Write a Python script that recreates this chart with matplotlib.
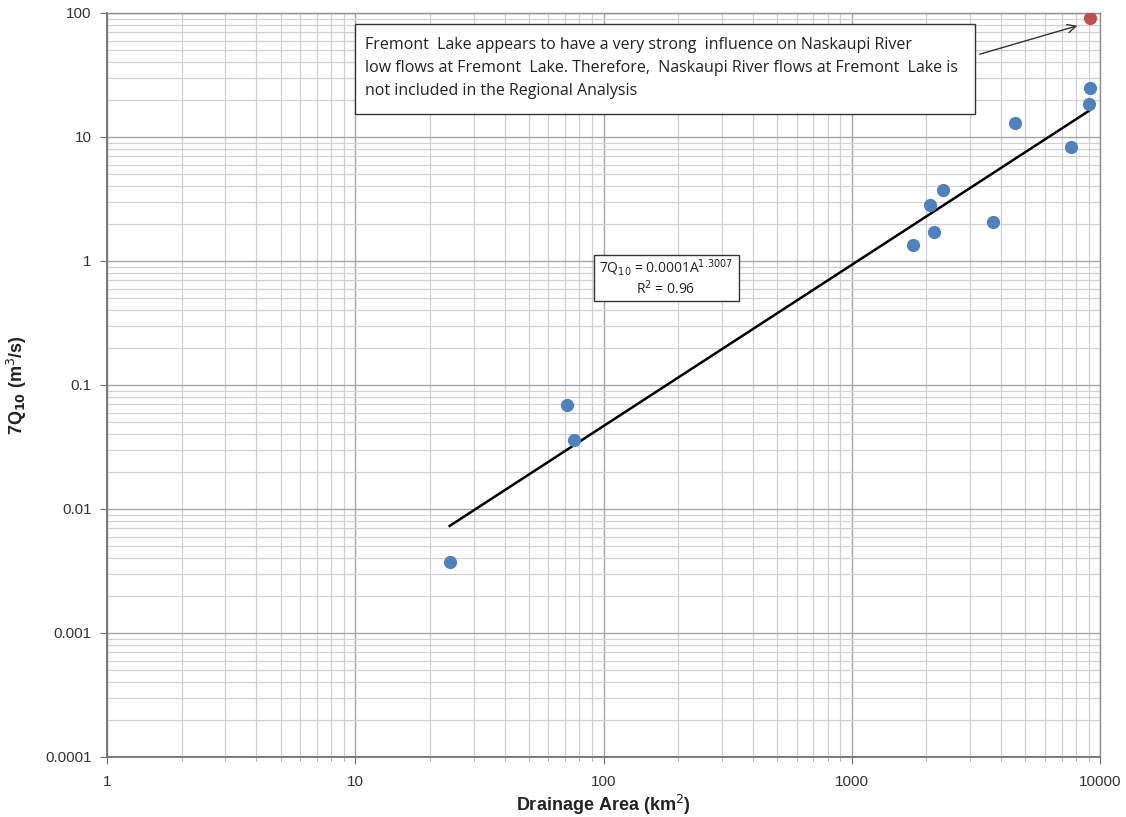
import matplotlib
matplotlib.use("Agg")
import matplotlib.pyplot as plt
from matplotlib.ticker import LogLocator, FixedLocator, FixedFormatter, NullFormatter
from matplotlib.patches import Rectangle

plt.rcParams['font.family'] = ['Liberation Sans Narrow', 'Liberation Sans', 'DejaVu Sans']

# Data
area = [24.1, 71.3, 76.1, 1766, 2144, 2066, 2333, 3706, 4548, 7641, 9035, 9120]
q7q10 = [0.00374, 0.069, 0.036, 1.35, 1.71, 2.83, 3.74, 2.06, 12.97, 8.3, 18.5, 24.8]
excluded_area = [9120]
excluded_q = [91]
trend_x = [24.0, 9000.0]
trend_y = [0.0073, 16.2]
x_ticks = [1, 10, 100, 1000, 10000]
x_labels = ['1', '10', '100', '1000', '10000']
y_ticks = [0.0001, 0.001, 0.01, 0.1, 1, 10, 100]
y_labels = ['0.0001', '0.001', '0.01', '0.1', '1', '10', '100']

fig = plt.figure(figsize=(11.26, 8.17), dpi=100)
ax = fig.add_axes([107/1126, 1-757/817, (1100-107)/1126, (757-13)/817])
ax.set_xscale('log')
ax.set_yscale('log')
ax.set_xlim(1, 10000)
ax.set_ylim(0.0001, 100)

ax.grid(True, which='major', color='#a6a6a6', linewidth=1.0)
ax.grid(True, which='minor', color='#d0d0d0', linewidth=0.9)
ax.set_axisbelow(True)

ax.xaxis.set_major_locator(FixedLocator(x_ticks))
ax.xaxis.set_major_formatter(FixedFormatter(x_labels))
ax.yaxis.set_major_locator(FixedLocator(y_ticks))
ax.yaxis.set_major_formatter(FixedFormatter(y_labels))
ax.xaxis.set_minor_locator(LogLocator(base=10, subs=range(2, 10), numticks=20))
ax.yaxis.set_minor_locator(LogLocator(base=10, subs=range(2, 10), numticks=20))
ax.xaxis.set_minor_formatter(NullFormatter())
ax.yaxis.set_minor_formatter(NullFormatter())
ax.tick_params(axis='both', which='major', direction='out', length=5, color='#707070',
               labelsize=11, labelcolor='#333333', pad=6)
ax.tick_params(axis='x', which='major', pad=8)
ax.tick_params(axis='x', which='minor', direction='out', length=3, color='#a0a0a0')
ax.tick_params(axis='y', which='minor', length=0)

for side in ['left', 'bottom']:
    ax.spines[side].set_color('#707070')
    ax.spines[side].set_linewidth(1.3)
for side in ['top', 'right']:
    ax.spines[side].set_color('#909090')
    ax.spines[side].set_linewidth(1.0)

ax.plot(trend_x, trend_y, color='black', linewidth=1.8, zorder=3)
ax.plot(area, q7q10, 'o', color='#4F81BD', markersize=9.5, markeredgewidth=0, zorder=4)
ax.plot(excluded_area, excluded_q, 'o', color='#C0504D', markersize=9.5, markeredgewidth=0, zorder=4)

fig.text(603/1126, 1-805/817, 'Drainage Area (km$^{2}$)', fontsize=13, fontweight='bold',
         ha='center', va='center', color='#222222')
fig.text(17/1126, 1-385/817, '7Q$_{\\mathbf{10}}$ (m$^{3}$/s)', fontsize=13, fontweight='bold',
         ha='center', va='center', rotation=90, color='#222222')

# annotation box
note = ("Fremont  Lake appears to have a very strong  influence on Naskaupi River\n"
        "low flows at Fremont  Lake. Therefore,  Naskaupi River flows at Fremont  Lake is\n"
        "not included in the Regional Analysis")
fig.patches.append(Rectangle((355/1126, 1-114/817), (975-355)/1126, (114-24)/817,
                             transform=fig.transFigure, facecolor='white',
                             edgecolor='#333333', linewidth=1.0, zorder=2))
fig.text(365/1126, 1-68/817, note, fontsize=11.5, va='center', ha='left', linespacing=1.55,
         family=['Open Sans', 'DejaVu Sans'], color='#222222', zorder=3)
ax.annotate('', xy=(1080/1126, 1-25/817), xytext=(977/1126, 1-55/817),
            xycoords='figure fraction', textcoords='figure fraction',
            arrowprops=dict(arrowstyle='->', color='#333333', linewidth=1.0,
                            mutation_scale=15))

# equation box
fig.patches.append(Rectangle((594/1126, 1-301/817), (739-594)/1126, (301-255)/817,
                             transform=fig.transFigure, facecolor='white',
                             edgecolor='#333333', linewidth=1.0, zorder=2))
fig.text(666/1126, 1-268/817, '7Q$_{10}$ = 0.0001A$^{1.3007}$', fontsize=10, ha='center', va='center',
         family=['Open Sans', 'DejaVu Sans'], color='#222222', zorder=3)
fig.text(666/1126, 1-289/817, 'R$^{2}$ = 0.96', fontsize=10, ha='center', va='center',
         family=['Open Sans', 'DejaVu Sans'], color='#222222', zorder=3)

fig.savefig('out.png', dpi=100)
